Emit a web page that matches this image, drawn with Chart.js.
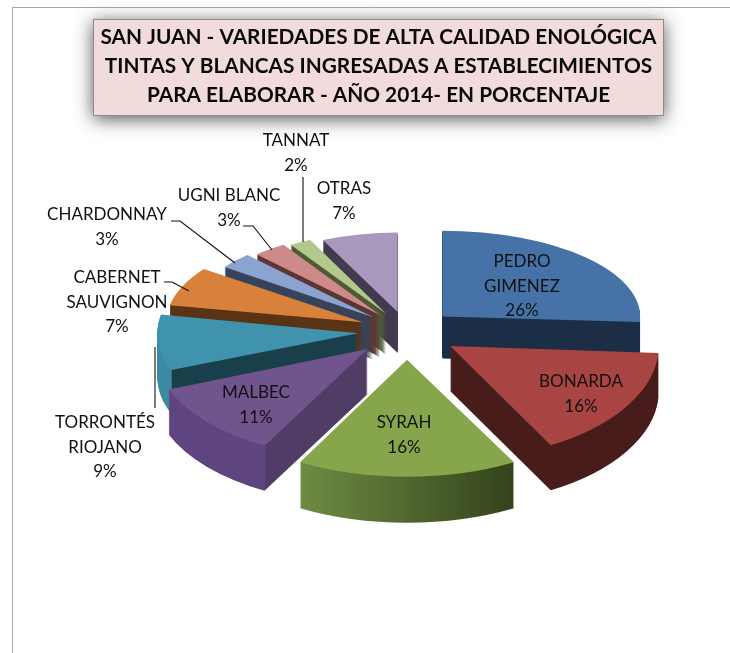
<!DOCTYPE html>
<html><head><meta charset="utf-8">
<style>
html,body{margin:0;padding:0;background:#fff;width:730px;height:653px;overflow:hidden}
#wrap{position:relative;width:730px;height:653px}
canvas{position:absolute;left:0;top:0}
</style>
<script src="https://cdn.jsdelivr.net/npm/chart.js@4"></script>
</head><body><div id="wrap"><canvas id="c" width="730" height="653"></canvas></div>
<script>
const titleLines = ['SAN JUAN - VARIEDADES DE ALTA CALIDAD ENOLÓGICA','TINTAS Y BLANCAS INGRESADAS A ESTABLECIMIENTOS','PARA ELABORAR - AÑO 2014- EN PORCENTAJE'];
const categories = ['PEDRO GIMENEZ','BONARDA','SYRAH','MALBEC','TORRONTÉS RIOJANO','CABERNET SAUVIGNON','CHARDONNAY','UGNI BLANC','TANNAT','OTRAS'];
const values = [26,16,16,11,9,7,3,3,2,7];
const labelLines = [['PEDRO','GIMENEZ'],['BONARDA'],['SYRAH'],['MALBEC'],['TORRONTÉS','RIOJANO'],['CABERNET','SAUVIGNON'],['CHARDONNAY'],['UGNI BLANC'],['TANNAT'],['OTRAS']];
const topColors = ['#4672a8','#a84442','#87a54b','#70548c','#3f93ad','#d8813a','#8aa4cf','#cd8a88','#b3c88d','#a898bd'];
const outerLeft = ['#1b2e45','#471c1a','#6f8c42','#5e4580','#3d8aa3','#5a3314','#36435a','#5b3634','#4f5a34','#443a50'];
const outerRight = ['#1b2e45','#471c1a','#33421b','#5e4580','#3d8aa3','#5a3314','#36435a','#5b3634','#4f5a34','#443a50'];
const innerWall = ['#1b2e45','#471c1a','#33421b','#503d65','#193f4a','#5a3314','#36435a','#5b3634','#4f5a34','#443a50'];
const labelX = [522,581,404,256,105,117,107,229,296,344];
const labelY = [262,382,423,393,423,278,215,196,141,189];
const leaders = [[[171,221],[180,221],[235,263]],[[243,226],[253,226],[272,250]],[[303,177],[303,242]],[[164,282],[172,282],[189,291]],[[155,347],[155,408]]];
const explodeRatio = 0.245, pieX = 407, pieY = 331;
const LABEL_FONT = '17px Lato', LINE = 24.5;

function view(a){ // a: canvas angle of the slice middle
  const t=(1+Math.sin(a))/2, s=Math.cos(a);
  const right=Math.max(0,s), left=Math.max(0,-s);
  const bump=Math.max(0,1-Math.abs(t-0.3)/0.15);
  return {rx:175+47*t+31*right*(1-t)*(1-t)-6*right*t+8*left*bump, ry:79+38*t+8*right*t, depth:41+5*t};
}
const pie3d = {
  id:'pie3d',
  beforeDraw(chart){
    const ctx=chart.ctx; ctx.save();
    ctx.fillStyle='#fff'; ctx.fillRect(0,0,730,653);
    ctx.strokeStyle='#a8a8a8'; ctx.lineWidth=1;
    ctx.beginPath(); ctx.moveTo(12.5,653); ctx.lineTo(12.5,7.5); ctx.lineTo(730,7.5); ctx.stroke();
    ctx.shadowColor='rgba(70,70,70,.9)'; ctx.shadowBlur=17; ctx.shadowOffsetX=0; ctx.shadowOffsetY=3;
    ctx.fillStyle='#f2dcdb'; ctx.fillRect(93,19,571,97);
    ctx.shadowColor='transparent';
    ctx.strokeStyle='#8c8c8c'; ctx.strokeRect(93.5,19.5,570,96);
    ctx.fillStyle='#0a0a0a'; ctx.font='bold 20.8px Lato'; ctx.textAlign='center'; ctx.textBaseline='middle';
    titleLines.forEach((l,i)=>ctx.fillText(l,378.5,37+i*29));
    ctx.restore();
  },
  beforeDatasetsDraw(chart){
    const ctx=chart.ctx, arcs=chart.getDatasetMeta(0).data;
    const order=arcs.map((a,i)=>i).sort((p,q)=>{
      const mp=(arcs[p].startAngle+arcs[p].endAngle)/2, mq=(arcs[q].startAngle+arcs[q].endAngle)/2;
      return Math.sin(mp)-Math.sin(mq);
    });
    order.forEach(i=>{
      const arc=arcs[i], mid=(arc.startAngle+arc.endAngle)/2, v=view(mid), R=arc.outerRadius, o=arc.options;
      const sx=v.rx/R, sy=v.ry/R, e=explodeRatio*R;
      const place=d=>{ctx.setTransform(sx,0,0,sy,pieX+sx*(e*Math.cos(mid)-arc.x),pieY+d+sy*(e*Math.sin(mid)-arc.y));};
      const sS=Math.cos(arc.startAngle), sE=Math.cos(arc.endAngle);
      let g;
      if(Math.cos(mid)<-0.1){
        g=ctx.createLinearGradient(arc.x-R,0,arc.x,0);
        const p=1+sS;
        g.addColorStop(0,outerLeft[i]); g.addColorStop(p,outerRight[i]);
        g.addColorStop(Math.min(1,p+0.001),innerWall[i]); g.addColorStop(1,innerWall[i]);
      } else {
        g=ctx.createLinearGradient(arc.x+R*Math.min(sS,sE),0,arc.x+R*Math.max(sS,sE),0);
        g.addColorStop(0,outerLeft[i]); g.addColorStop(1,outerRight[i]);
      }
      arc.options=Object.assign({},o,{backgroundColor:g});
      for(let d=Math.round(v.depth);d>0;d--){ctx.save();place(d);arc.draw(ctx);ctx.restore();}
      arc.options=Object.assign({},o,{backgroundColor:topColors[i]});
      ctx.save();place(0);arc.draw(ctx);ctx.restore();
      arc.options=o;
    });
    return false;
  },
  afterDraw(chart){
    const ctx=chart.ctx; ctx.save();
    ctx.strokeStyle='#111'; ctx.lineWidth=1.1;
    leaders.forEach(pts=>{ctx.beginPath();pts.forEach((p,k)=>k?ctx.lineTo(p[0],p[1]):ctx.moveTo(p[0],p[1]));ctx.stroke();});
    ctx.fillStyle='#111'; ctx.font=LABEL_FONT; ctx.textAlign='center'; ctx.textBaseline='middle';
    labelLines.forEach((ls,i)=>{
      ls.concat([values[i]+'%']).forEach((t,k)=>ctx.fillText(t,labelX[i],labelY[i]+k*LINE));
    });
    ctx.restore();
  }
};
new Chart(document.getElementById('c'),{
  type:'pie',
  data:{labels:categories,datasets:[{data:values,backgroundColor:topColors,borderWidth:0}]},
  options:{responsive:false,animation:false,events:[],layout:{padding:0},
    plugins:{legend:{display:false},tooltip:{enabled:false},title:{display:false}}},
  plugins:[pie3d]
});
</script></body></html>
